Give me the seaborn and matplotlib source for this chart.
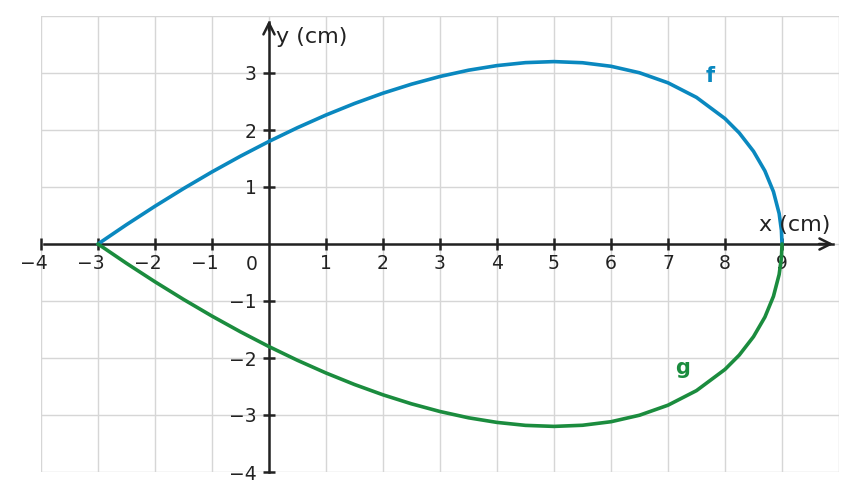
import numpy as np
import pandas as pd
import matplotlib.pyplot as plt
import matplotlib.transforms as mtransforms
import seaborn as sns

x_vals = [-3, -2.5, -2, -1.5, -1, -0.5, 0, 0.5, 1, 1.5, 2, 2.5, 3, 3.5, 4, 4.5,
          5, 5.5, 6, 6.5, 7, 7.5, 8, 8.25, 8.5, 8.7, 8.85, 8.95, 8.99, 9]
f_vals = [0, 0.339, 0.663, 0.972, 1.265, 1.541, 1.8, 2.041, 2.263, 2.465, 2.646,
          2.804, 2.939, 3.049, 3.130, 3.182, 3.2, 3.180, 3.118, 3.004, 2.828,
          2.572, 2.2, 1.949, 1.626, 1.282, 0.918, 0.534, 0.240, 0]
g_vals = [-v for v in f_vals]

x_ticks = [-4, -3, -2, -1, 1, 2, 3, 4, 5, 6, 7, 8, 9]
y_ticks = [-4, -3, -2, -1, 1, 2, 3]
x_grid = list(range(-4, 11))
y_grid = list(range(-4, 5))

blue = "#0a88bf"
green = "#1b8c3e"
dark = "#222222"

df = pd.DataFrame({"x": x_vals, "f": f_vals, "g": g_vals})

sns.set_style("white")
plt.rcParams['font.family'] = ['DejaVu Sans']

fig = plt.figure(figsize=(8.56, 5.01), dpi=100)
ax = fig.add_axes([41 / 856, 29 / 501, 798 / 856, 456 / 501])

# grid on every integer
for gx in x_grid:
    ax.axvline(gx, color="#d6d6d6", lw=1, zorder=0)
for gy in y_grid:
    ax.axhline(gy, color="#d6d6d6", lw=1, zorder=0)

sns.lineplot(data=df, x="x", y="f", color=blue, lw=2.6, ax=ax, sort=False, zorder=3)
sns.lineplot(data=df, x="x", y="g", color=green, lw=2.6, ax=ax, sort=False, zorder=3)

ax.set_xlim(-4, 10)
ax.set_ylim(-4, 4)

ax.spines[["top", "right"]].set_visible(False)
ax.spines["left"].set_position(("data", 0))
ax.spines["bottom"].set_position(("data", 0))
ax.spines["left"].set_bounds(-4, 3.9)
ax.spines["bottom"].set_bounds(-3.95, 9.9)
for s in ["left", "bottom"]:
    ax.spines[s].set_color(dark)
    ax.spines[s].set_linewidth(1.8)

ax.set_xticks(x_ticks)
ax.set_yticks(y_ticks)
ax.set_xticklabels([str(t).replace("-", "\u2212") for t in x_ticks])
ax.set_yticklabels([str(t).replace("-", "\u2212") for t in y_ticks])
ax.tick_params(which="major", bottom=True, left=True, direction="inout", length=9,
               width=1.8, color=dark, labelsize=13.5, labelcolor=dark, pad=3)
ax.tick_params(axis="y", pad=4.5)
ax.set_xlabel("")
ax.set_ylabel("")

# negative x labels: keep the digit centred on the tick, minus hangs left
shift = mtransforms.ScaledTranslation(-7.5 / 100, 0, fig.dpi_scale_trans)
for tick, val in zip(ax.xaxis.get_major_ticks(), x_ticks):
    if val < 0:
        tick.label1.set_transform(tick.label1.get_transform() + shift)

# arrow heads
ax.annotate("", xy=(9.95, 0), xytext=(9.6, 0),
            arrowprops=dict(arrowstyle="->", lw=1.8, color=dark, mutation_scale=20))
ax.annotate("", xy=(0, 3.97), xytext=(0, 3.7),
            arrowprops=dict(arrowstyle="->", lw=1.8, color=dark, mutation_scale=20))

ax.text(-0.3, -0.36, "0", fontsize=13.5, color=dark, ha="center", va="center")
ax.text(0.13, 3.64, "y (cm)", fontsize=16, color=dark, ha="left", va="center")
ax.text(9.85, 0.33, "x (cm)", fontsize=16, color=dark, ha="right", va="center")
ax.text(7.74, 2.95, "f", fontsize=15, fontweight="bold", color=blue, ha="center", va="center")
ax.text(7.26, -2.18, "g", fontsize=15, fontweight="bold", color=green, ha="center", va="center")

fig.savefig("out.png", dpi=100)
